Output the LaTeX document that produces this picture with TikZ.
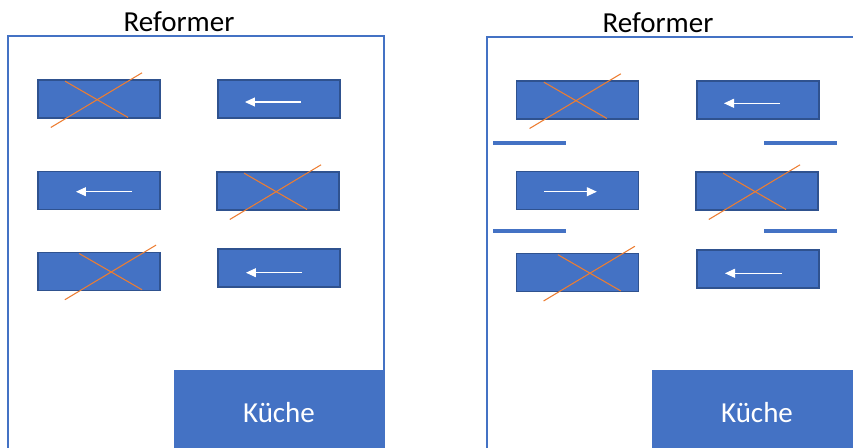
\documentclass[tikz,border=0pt]{standalone}
\usepackage{fontspec}
\setmainfont{Carlito}
\usetikzlibrary{arrows.meta,positioning,calc}
\definecolor{ventblue}{HTML}{4472C4}
\definecolor{ventedge}{HTML}{2F528F}
\definecolor{crossorange}{HTML}{ED7D31}
% orange X over a closed vent (optional shift to the right)
\newcommand{\crossvent}[2][0]{%
 \draw[crossline] ($(#2.north west)+(27.6+#1,1.7)$) -- ($(#2.north west)+(90.6+#1,38)$);
 \draw[crossline] ($(#2.north west)+(13.3+#1,48)$) -- ($(#2.north west)+(104.6+#1,-6.7)$);}

\begin{document}
\begin{tikzpicture}[x=0.02cm, y=-0.02cm,
 vent/.style={draw=ventedge, fill=ventblue, line width=0.6pt, minimum width=2.44cm, minimum height=0.76cm, inner sep=0pt},
 kitchen/.style={draw=ventblue, fill=ventblue, minimum width=4.2cm, minimum height=1.72cm, inner sep=0pt, text=white, font=\fontsize{16.5}{20}\selectfont},
 title/.style={anchor=base, font=\fontsize{16.5}{20}\selectfont},
 frame/.style={draw=ventblue, line width=0.6pt},
 crossline/.style={draw=crossorange, line width=0.6pt},
 flow/.style={draw=white, line width=0.6pt, -{Triangle[length=0.2cm, width=0.18cm]}},
 wall/.style={draw=ventblue, line width=0.08cm}]
\useasboundingbox (0,0) rectangle (853,447);

% left reformer
\node[title] (t1) at (179,31) {Reformer};
\draw[frame] (8,460) |- (384,36) -- (384,460);
\node[vent] (l1a) at (99,99) {};
\node[vent] (l1b) at (279,99) {};
\node[vent] (l2a) at (99,190.7) {};
\node[vent] (l2b) at (278,191) {};
\node[vent] (l3a) at (99,271.3) {};
\node[vent] (l3b) at (279,268) {};
\node[kitchen] (k1) at (279,413) {Küche};
\crossvent{l1a}
\crossvent{l2b}
\crossvent[14]{l3a}
\draw[flow] ($(l1b.center)+(22,3)$) -- ++(-56,0);
\draw[flow] ($(l2a.center)+(33,1)$) -- ++(-56,0);
\draw[flow] ($(l3b.center)+(23,4.7)$) -- ++(-56,0);

% right reformer
\node[title] (t2) at (658,32) {Reformer};
\draw[frame] (487,460) |- (870,37);
\node[vent] (r1a) at (577.8,100) {};
\node[vent] (r1b) at (758,100) {};
\node[vent] (r2a) at (577.8,190.7) {};
\node[vent] (r2b) at (757,191) {};
\node[vent] (r3a) at (577.8,272.5) {};
\node[vent] (r3b) at (758,269) {};
\node[kitchen] (k2) at (757,413) {Küche};
\crossvent{r1a}
\crossvent{r2b}
\crossvent[14]{r3a}
\draw[flow] ($(r1b.center)+(22,3.3)$) -- ++(-56,0);
\draw[flow] ($(r2a.center)+(-33.5,1)$) -- ++(52.5,0);
\draw[flow] ($(r3b.center)+(23.7,4.3)$) -- ++(-56.7,0);
\draw[wall] (493.3,142.7) -- (566,142.7);
\draw[wall] (493.3,231) -- (566,231);
\draw[wall] (764,142.7) -- (837,142.7);
\draw[wall] (764,231) -- (837,231);
\end{tikzpicture}
\end{document}
